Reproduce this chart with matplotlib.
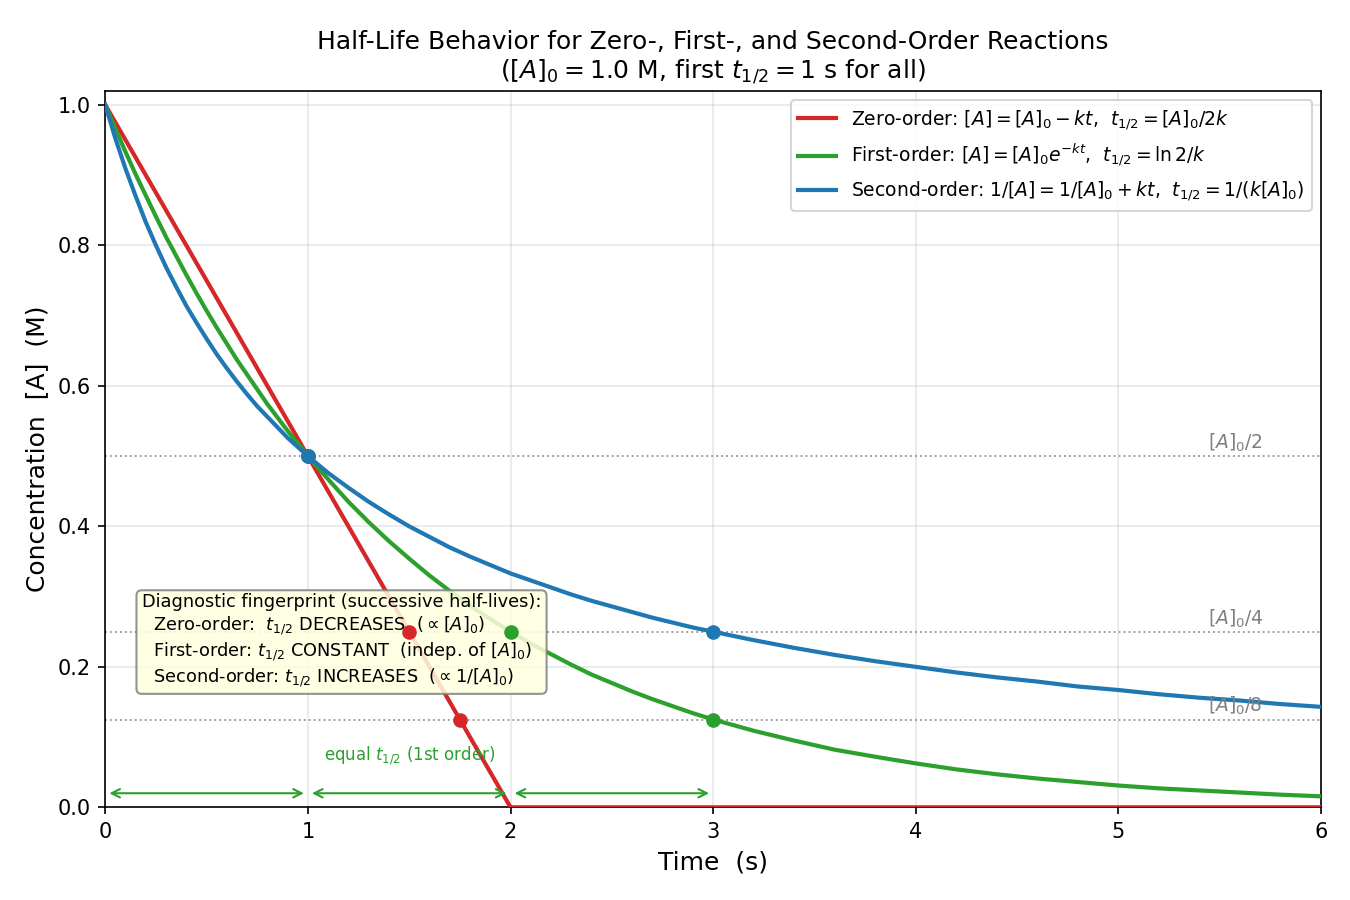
import numpy as np
import matplotlib
matplotlib.use("Agg")
import matplotlib.pyplot as plt

# time grid + concentrations
t = [0.0, 0.05, 0.1, 0.15, 0.2, 0.25, 0.3, 0.35, 0.4, 0.45,
     0.5, 0.55, 0.6, 0.65, 0.7, 0.75, 0.8, 0.85, 0.9, 0.95,
     1.0, 1.1, 1.2, 1.3, 1.4, 1.5, 1.6, 1.7, 1.8, 1.9,
     2.0, 2.1, 2.2, 2.3, 2.4, 2.5, 2.6, 2.7, 2.8, 2.9,
     3.0, 3.2, 3.4, 3.6, 3.8, 4.0, 4.2, 4.4, 4.6, 4.8,
     5.0, 5.2, 5.4, 5.6, 5.8, 6.0]
zero_order = [1.000, 0.975, 0.950, 0.925, 0.900, 0.875, 0.850, 0.825, 0.800, 0.775,
              0.750, 0.725, 0.700, 0.675, 0.650, 0.625, 0.600, 0.575, 0.550, 0.525,
              0.500, 0.450, 0.400, 0.350, 0.300, 0.250, 0.200, 0.150, 0.100, 0.050,
              0.000, 0.000, 0.000, 0.000, 0.000, 0.000, 0.000, 0.000, 0.000, 0.000,
              0.000, 0.000, 0.000, 0.000, 0.000, 0.000, 0.000, 0.000, 0.000, 0.000,
              0.000, 0.000, 0.000, 0.000, 0.000, 0.000]
first_order = [1.000, 0.966, 0.933, 0.901, 0.871, 0.841, 0.812, 0.785, 0.758, 0.732,
               0.707, 0.683, 0.660, 0.637, 0.616, 0.595, 0.574, 0.555, 0.536, 0.518,
               0.500, 0.467, 0.435, 0.406, 0.379, 0.354, 0.330, 0.308, 0.287, 0.268,
               0.250, 0.233, 0.218, 0.203, 0.189, 0.177, 0.165, 0.154, 0.144, 0.134,
               0.125, 0.109, 0.095, 0.082, 0.072, 0.0625, 0.054, 0.047, 0.041, 0.036,
               0.031, 0.027, 0.024, 0.021, 0.018, 0.0156]
second_order = [1.000, 0.952, 0.909, 0.870, 0.833, 0.800, 0.769, 0.741, 0.714, 0.690,
                0.667, 0.645, 0.625, 0.606, 0.588, 0.571, 0.556, 0.541, 0.526, 0.513,
                0.500, 0.476, 0.455, 0.435, 0.417, 0.400, 0.385, 0.370, 0.357, 0.345,
                0.333, 0.323, 0.313, 0.303, 0.294, 0.286, 0.278, 0.270, 0.263, 0.256,
                0.250, 0.238, 0.227, 0.217, 0.208, 0.200, 0.192, 0.185, 0.179, 0.172,
                0.167, 0.161, 0.156, 0.152, 0.147, 0.143]

# half-life markers
zero_pts_t = [1.0, 1.5, 1.75]
zero_pts_c = [0.5, 0.25, 0.125]
first_pts_t = [1.0, 2.0, 3.0]
first_pts_c = [0.5, 0.25, 0.125]
second_pts_t = [1.0, 3.0]
second_pts_c = [0.5, 0.25]

ref_levels = [0.5, 0.25, 0.125]
ref_labels = [r"$[A]_0/2$", r"$[A]_0/4$", r"$[A]_0/8$"]
arrow_spans = [(0, 1), (1, 2), (2, 3)]

red, green, blue = "#d62728", "#2ca02c", "#1f77b4"

fig, ax = plt.subplots(figsize=(9, 6), dpi=150)
fig.subplots_adjust(left=0.078, right=0.9785, top=0.899, bottom=0.103)

ax.plot(t, zero_order, color=red, lw=2, zorder=3,
        label=r"Zero-order: $[A]=[A]_0 - kt$,  $t_{1/2}=[A]_0/2k$")
ax.plot(t, first_order, color=green, lw=2, zorder=3,
        label=r"First-order: $[A]=[A]_0e^{-kt}$,  $t_{1/2}=\ln 2/k$")
ax.plot(t, second_order, color=blue, lw=2, zorder=3,
        label=r"Second-order: $1/[A]=1/[A]_0 + kt$,  $t_{1/2}=1/(k[A]_0)$")

ax.plot(zero_pts_t, zero_pts_c, "o", color=red, ms=6, zorder=5)
ax.plot(first_pts_t, first_pts_c, "o", color=green, ms=6, zorder=5)
ax.plot(second_pts_t, second_pts_c, "o", color=blue, ms=6, zorder=6)

for lev, lab in zip(ref_levels, ref_labels):
    ax.axhline(lev, color="gray", ls=":", lw=0.9, alpha=0.8)
    ax.text(5.44, lev + 0.003, lab, color="gray", fontsize=9, va="bottom", ha="left")

for a, b in arrow_spans:
    ax.annotate("", xy=(b - 0.02, 0.02), xytext=(a + 0.02, 0.02),
                arrowprops=dict(arrowstyle="<->", color=green, lw=1,
                                shrinkA=0, shrinkB=0))
ax.text(1.5, 0.058, r"equal $t_{1/2}$ (1st order)", color=green, fontsize=8,
        ha="center", va="bottom")

box_txt = ("Diagnostic fingerprint (successive half-lives):\n"
           "  Zero-order:  $t_{1/2}$ DECREASES  ($\\propto[A]_0$)\n"
           "  First-order: $t_{1/2}$ CONSTANT  (indep. of $[A]_0$)\n"
           "  Second-order: $t_{1/2}$ INCREASES  ($\\propto 1/[A]_0$)")
ax.text(0.18, 0.305, box_txt, fontsize=8.5, va="top", ha="left", zorder=4,
        bbox=dict(boxstyle="round,pad=0.3", fc="lightyellow", ec="gray", alpha=0.85))

ax.set_xlim(0, 6)
ax.set_ylim(0, 1.02)
ax.set_xlabel("Time  (s)", fontsize=12)
ax.set_ylabel("Concentration  [A]  (M)", fontsize=12)
ax.set_title("Half-Life Behavior for Zero-, First-, and Second-Order Reactions\n"
             r"($[A]_0 = 1.0$ M, first $t_{1/2} = 1$ s for all)", fontsize=12)
ax.grid(True, alpha=0.3)
ax.legend(loc="upper right", fontsize=9, labelspacing=0.55)

fig.savefig("out.png")
